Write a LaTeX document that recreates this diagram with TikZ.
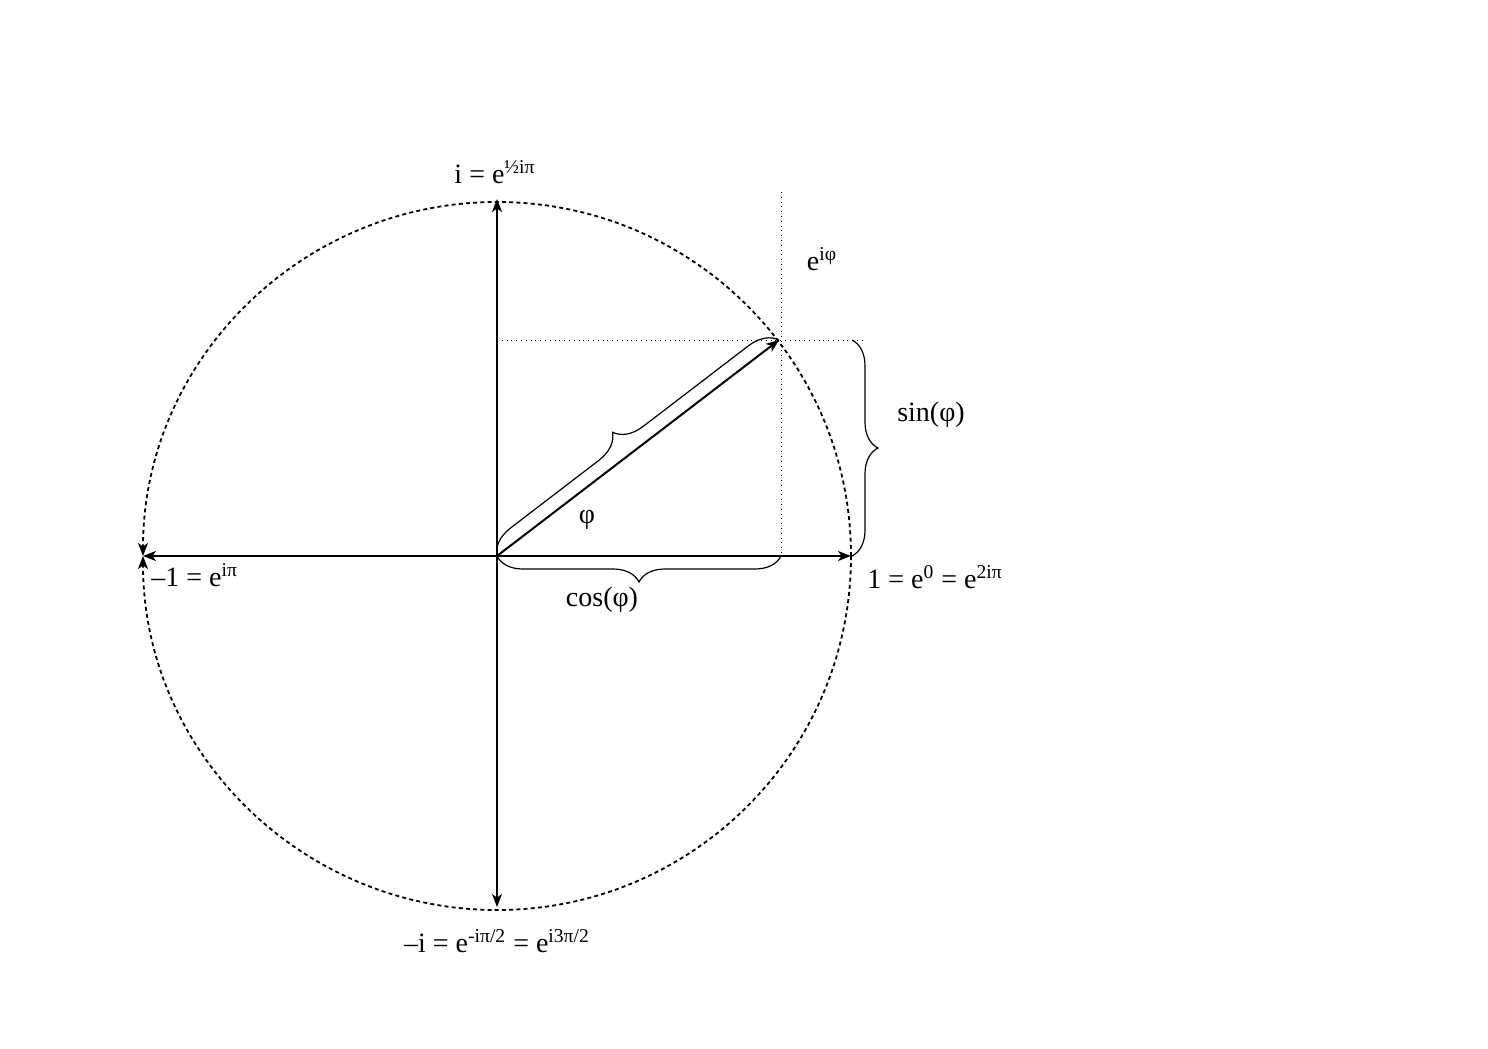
\documentclass[tikz,border=0pt]{standalone}
\usepackage{fontspec}
\setmainfont{Liberation Serif}
\usetikzlibrary{arrows.meta,decorations.pathreplacing}
\begin{document}
\begin{tikzpicture}[x=0.5pt,y=-0.5pt,
  tip/.style={-{Stealth[length=6.5pt,width=5pt,inset=1.8pt]}},
  axis/.style={line width=1pt,tip},
  circ/.style={line width=0.9pt,dash pattern=on 2pt off 1.6pt},
  guide/.style={line width=0.4pt,dotted},
  bracestyle/.style={line width=0.6pt,decorate,decoration={brace,amplitude=13pt,aspect=0.5}},
  lbl/.style={font=\fontsize{14}{16}\selectfont,inner sep=0pt}]
\useasboundingbox (0,0) rectangle (1488,1049);
\coordinate (O) at (497,556);
\coordinate (R) at (851,556);
\coordinate (L) at (143,556);
\coordinate (T) at (497,199);
\coordinate (B) at (497,907);
\coordinate (P) at (779,340);
\coordinate (Py) at (497,340);
\coordinate (Pyr) at (862,340);
\coordinate (Px) at (781,556);
\coordinate (Pxt) at (781,192);
\coordinate (Sa) at (852,340);
\coordinate (Sb) at (852,556);
% circle as two arcs meeting at -1
\draw[circ,tip] (R) arc[start angle=0,end angle=180,radius=177pt];
\draw[circ,tip] (R) arc[start angle=0,end angle=-180,radius=177pt];
% guides
\draw[guide] (Py) -- (Pyr);
\draw[guide] (Pxt) -- (Px);
% axes
\draw[axis] (O) -- (R);
\draw[axis] (O) -- (L);
\draw[axis] (O) -- (T);
\draw[axis] (O) -- (B);
\draw[axis] (O) -- (P);
% braces
\draw[bracestyle] (Px) -- (O);
\draw[bracestyle,decoration={amplitude=14pt,aspect=0.47}] (O) -- (P);
\draw[bracestyle] (Sa) -- (Sb);
% labels
\node[lbl] (li) at (495,172) {i = e\textsuperscript{½iπ}};
\node[lbl] (lp) at (822,259) {e\textsuperscript{iφ}};
\node[lbl] (ls) at (931,415) {sin(φ)};
\node[lbl] (lphi) at (587,520) {φ};
\node[lbl,anchor=west] (lm1) at (151,575) {–1 = e\textsuperscript{iπ}};
\node[lbl,anchor=west] (l1) at (867,577) {1 = e\textsuperscript{0} = e\textsuperscript{2iπ}};
\node[lbl] (lc) at (602,600) {cos(φ)};
\node[lbl] (lmi) at (497,941) {–i = e\textsuperscript{-iπ/2} = e\textsuperscript{i3π/2}};
\end{tikzpicture}
\end{document}
